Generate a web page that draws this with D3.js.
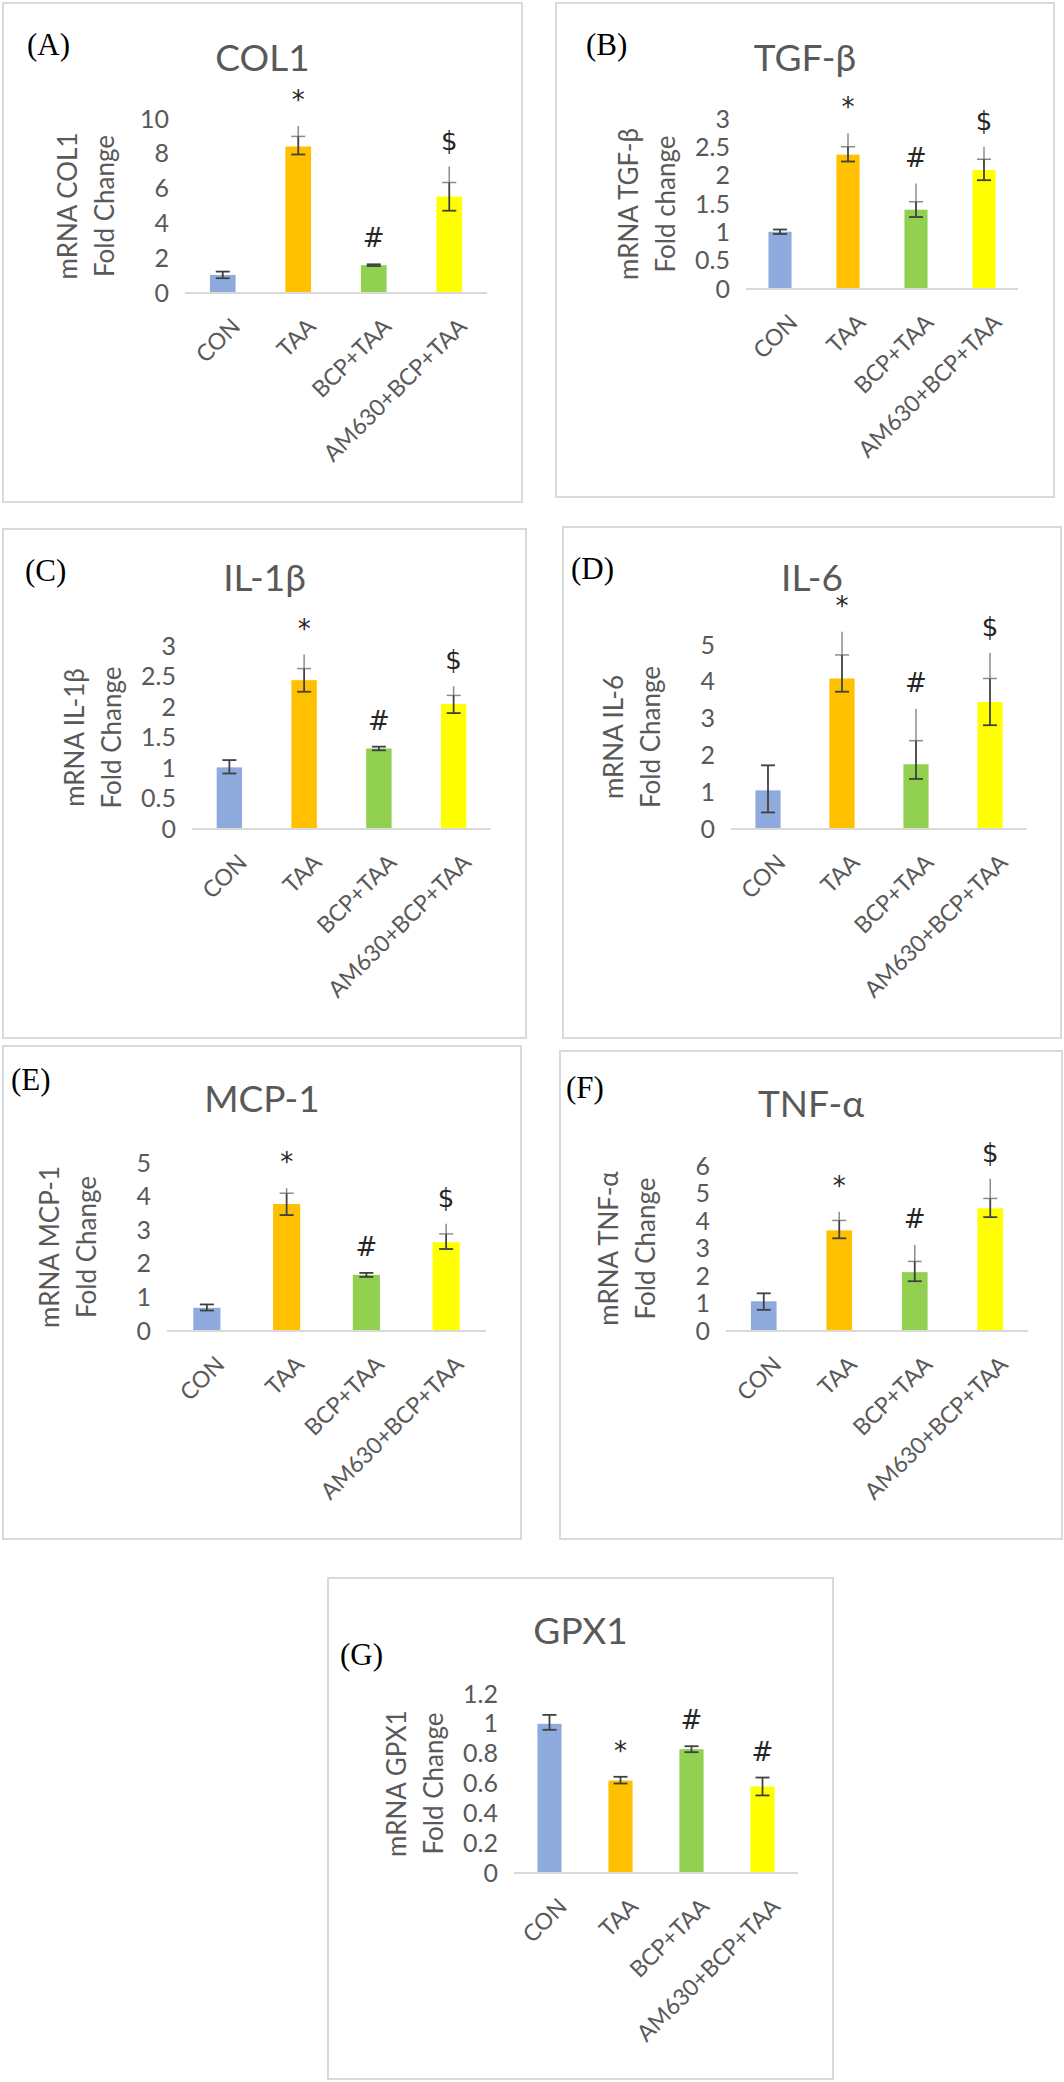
<!DOCTYPE html>
<html>
<head>
<meta charset="utf-8">
<script src="https://cdn.jsdelivr.net/npm/d3@7"></script>
<style>
  body { margin: 0; background: #fff; }
  text { font-family: Lato, "Open Sans", sans-serif; fill: #595959; }
</style>
</head>
<body>
<svg id="chart" width="1064" height="2082"></svg>
<script>
const categories = ['CON', 'TAA', 'BCP+TAA', 'AM630+BCP+TAA']
const barColors = ['#8faadc', '#ffc000', '#92d050', '#ffff00']

// means, black error bar ends, grey whisker top, significance marks
const col1Mean = [1.04, 8.42, 1.6, 5.54]
const col1Low = [0.85, 7.96, 1.55, 4.73]
const col1High = [1.23, 9.0, 1.65, 6.35]
const col1Grey = [null, 9.6, null, 7.27]
const col1Ticks = [0, 2, 4, 6, 8, 10]

const tgfMean = [1.01, 2.37, 1.4, 2.1]
const tgfLow = [0.97, 2.25, 1.27, 1.92]
const tgfHigh = [1.05, 2.51, 1.54, 2.29]
const tgfGrey = [null, 2.75, 1.86, 2.51]
const tgfTicks = [0, 0.5, 1, 1.5, 2, 2.5, 3]

const il1Mean = [1.01, 2.44, 1.32, 2.05]
const il1Low = [0.91, 2.25, 1.29, 1.9]
const il1High = [1.13, 2.63, 1.35, 2.19]
const il1Grey = [null, 2.86, null, 2.34]
const il1Ticks = [0, 0.5, 1, 1.5, 2, 2.5, 3]

const il6Mean = [1.05, 4.09, 1.76, 3.45]
const il6Low = [0.45, 3.73, 1.36, 2.82]
const il6High = [1.73, 4.73, 2.4, 4.09]
const il6Grey = [null, 5.36, 3.27, 4.78]
const il6Ticks = [0, 1, 2, 3, 4, 5]

const mcpMean = [0.69, 3.78, 1.67, 2.64]
const mcpLow = [0.61, 3.45, 1.61, 2.44]
const mcpHigh = [0.79, 4.1, 1.73, 2.89]
const mcpGrey = [null, 4.25, null, 3.19]
const mcpTicks = [0, 1, 2, 3, 4, 5]

const tnfMean = [1.08, 3.66, 2.14, 4.46]
const tnfLow = [0.77, 3.37, 1.81, 4.14]
const tnfHigh = [1.37, 4.02, 2.53, 4.82]
const tnfGrey = [null, 4.34, 3.13, 5.54]
const tnfTicks = [0, 1, 2, 3, 4, 5, 6]

const gpxMean = [1.0, 0.62, 0.83, 0.58]
const gpxLow = [0.96, 0.6, 0.81, 0.52]
const gpxHigh = [1.06, 0.645, 0.85, 0.64]
const gpxGrey = [null, null, null, null]
const gpxTicks = [0, 0.2, 0.4, 0.6, 0.8, 1, 1.2]

const marksUp = ['', '*', '#', '$']
const marksGpx = ['', '*', '#', '#']

const panels = [
  { tag: '(A)', title: 'COL1', ylab: ['mRNA COL1', 'Fold Change'], mean: col1Mean, low: col1Low, high: col1High, grey: col1Grey, ticks: col1Ticks, marks: marksUp,
    box: [3, 3, 519, 499], plot: [182, 484, 116, 290], tagPos: [24, 52], titleY: 68 },
  { tag: '(B)', title: 'TGF-β', ylab: ['mRNA TGF-β', 'Fold change'], mean: tgfMean, low: tgfLow, high: tgfHigh, grey: tgfGrey, ticks: tgfTicks, marks: marksUp,
    box: [556, 3, 498, 494], plot: [190, 462, 116, 286], tagPos: [30, 52], titleY: 68 },
  { tag: '(C)', title: 'IL-1β', ylab: ['mRNA IL-1β', 'Fold Change'], mean: il1Mean, low: il1Low, high: il1High, grey: il1Grey, ticks: il1Ticks, marks: marksUp,
    box: [3, 529, 523, 509], plot: [189, 488, 117, 300], tagPos: [22, 52], titleY: 62 },
  { tag: '(D)', title: 'IL-6', ylab: ['mRNA IL-6', 'Fold Change'], mean: il6Mean, low: il6Low, high: il6High, grey: il6Grey, ticks: il6Ticks, marks: marksUp,
    box: [563, 527, 498, 511], plot: [168, 464, 118, 302], tagPos: [8, 52], titleY: 64 },
  { tag: '(E)', title: 'MCP-1', ylab: ['mRNA MCP-1', 'Fold Change'], mean: mcpMean, low: mcpLow, high: mcpHigh, grey: mcpGrey, ticks: mcpTicks, marks: marksUp,
    box: [3, 1046, 518, 493], plot: [164, 483, 117, 285], tagPos: [8, 44], titleY: 66 },
  { tag: '(F)', title: 'TNF-α', ylab: ['mRNA TNF-α', 'Fold Change'], mean: tnfMean, low: tnfLow, high: tnfHigh, grey: tnfGrey, ticks: tnfTicks, marks: marksUp,
    box: [560, 1051, 502, 488], plot: [166, 468, 115, 280], tagPos: [6, 47], titleY: 66 },
  { tag: '(G)', title: 'GPX1', ylab: ['mRNA GPX1', 'Fold Change'], mean: gpxMean, low: gpxLow, high: gpxHigh, grey: gpxGrey, ticks: gpxTicks, marks: marksGpx,
    box: [328, 1578, 505, 501], plot: [186, 470, 116, 295], tagPos: [12, 87], titleY: 66 }
]

const svg = d3.select('#chart')

panels.forEach(p => {
  const [bx, by, bw, bh] = p.box
  const [x0, x1, yTop, yBase] = p.plot
  const g = svg.append('g').attr('transform', `translate(${bx},${by})`)

  g.append('rect')
    .attr('width', bw).attr('height', bh)
    .attr('fill', '#fff').attr('stroke', '#d9d9d9').attr('stroke-width', 2)

  g.append('text')
    .attr('x', p.tagPos[0]).attr('y', p.tagPos[1])
    .style('font-family', '"Liberation Serif", "Times New Roman", serif')
    .style('font-size', '31px').style('fill', '#000')
    .text(p.tag)

  g.append('text')
    .attr('x', bw / 2).attr('y', p.titleY)
    .attr('text-anchor', 'middle')
    .style('font-size', '37px')
    .text(p.title)

  const x = d3.scaleBand().domain(categories).range([x0, x1]).paddingInner(0.66).paddingOuter(0.33)
  const top = p.ticks[p.ticks.length - 1]
  const y = d3.scaleLinear().domain([0, top]).range([yBase, yTop])

  // y tick labels, no axis line
  const yAxis = g.append('g')
    .attr('transform', `translate(${x0 - 8},0)`)
    .call(d3.axisLeft(y).tickValues(p.ticks).tickSize(0).tickPadding(8).tickFormat(d3.format('')))
  yAxis.select('.domain').remove()
  yAxis.selectAll('text').style('font-size', '25px').style('fill', '#595959').style('font-family', 'Lato, "Open Sans", sans-serif')

  // axis title, two lines
  const midY = (yTop + yBase) / 2
  p.ylab.forEach((line, i) => {
    g.append('text')
      .attr('transform', `translate(${x0 - 108 + i * 37},${midY}) rotate(-90)`)
      .attr('text-anchor', 'middle')
      .style('font-size', '26px')
      .text(line)
  })

  // bars
  g.selectAll('.bar').data(categories).join('rect')
    .attr('x', d => x(d)).attr('width', x.bandwidth())
    .attr('y', (d, i) => y(p.mean[i]))
    .attr('height', (d, i) => yBase - y(p.mean[i]))
    .attr('fill', (d, i) => barColors[i])

  // baseline
  g.append('line')
    .attr('x1', x0).attr('x2', x1).attr('y1', yBase).attr('y2', yBase)
    .attr('stroke', '#d9d9d9').attr('stroke-width', 2)

  categories.forEach((c, i) => {
    const cx = x(c) + x.bandwidth() / 2
    if (p.grey[i] != null) {
      g.append('line')
        .attr('x1', cx).attr('x2', cx).attr('y1', y(p.high[i])).attr('y2', y(p.grey[i]))
        .attr('stroke', '#8c8c8c').attr('stroke-width', 1.5)
      g.append('line')
        .attr('x1', cx - 7).attr('x2', cx + 7).attr('y1', y(p.high[i])).attr('y2', y(p.high[i]))
        .attr('stroke', '#8c8c8c').attr('stroke-width', 1.5)
    }
    g.append('line')
      .attr('x1', cx).attr('x2', cx).attr('y1', y(p.low[i])).attr('y2', y(p.high[i]))
      .attr('stroke', '#404040').attr('stroke-width', 1.8)
    const caps = p.grey[i] != null ? [p.low[i]] : [p.low[i], p.high[i]]
    caps.forEach(v => {
      g.append('line')
        .attr('x1', cx - 7).attr('x2', cx + 7).attr('y1', y(v)).attr('y2', y(v))
        .attr('stroke', '#404040').attr('stroke-width', 1.8)
    })

    if (p.marks[i]) {
      const tipTop = Math.max(p.high[i], p.grey[i] || 0)
      g.append('text')
        .attr('x', cx).attr('y', y(tipTop) - 26)
        .attr('text-anchor', 'middle').attr('dominant-baseline', 'central')
        .style('font-family', '"DejaVu Sans", sans-serif')
        .style('font-size', '26px').style('fill', '#262626')
        .text(p.marks[i])
    }

    // rotated category label
    g.append('text')
      .attr('transform', `translate(${cx + 6},${yBase + 22}) rotate(-45)`)
      .attr('text-anchor', 'end')
      .attr('dominant-baseline', 'hanging')
      .style('font-size', '23px')
      .text(c)
  })
})
</script>
</body>
</html>
